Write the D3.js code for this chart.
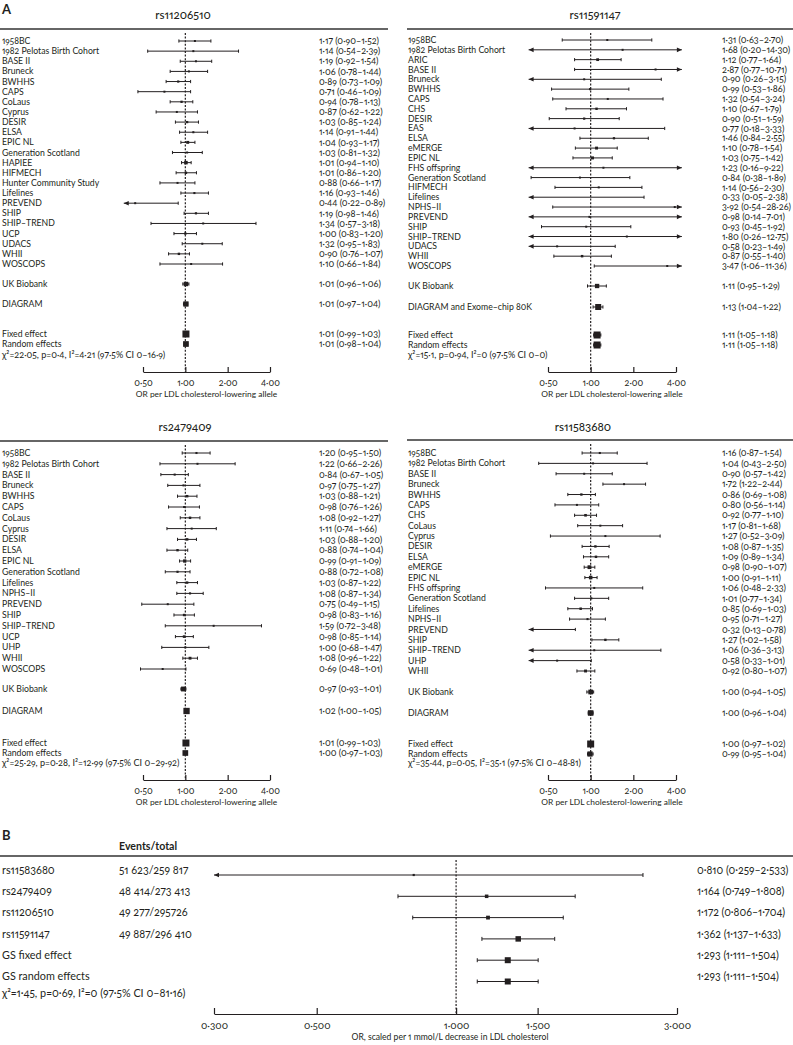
<!DOCTYPE html>
<html><head><meta charset="utf-8">
<script src="https://cdn.jsdelivr.net/npm/d3@7"></script>
<style>
body{margin:0;background:#fff}
svg text{font-family:Lato,"Open Sans",sans-serif;fill:#231f20;font-feature-settings:"onum" 1,"pnum" 1;}
</style>
</head><body>
<svg id="c" width="793" height="1045"></svg>
<script>
// ---------- DATA ----------
const p1Title = "rs11206510";
const p1Labels = ["1958BC","1982 Pelotas Birth Cohort","BASE II","Bruneck","BWHHS","CAPS","CoLaus","Cyprus","DESIR","ELSA","EPIC NL","Generation Scotland","HAPIEE","HIFMECH","Hunter Community Study","Lifelines","PREVEND","SHIP","SHIP–TREND","UCP","UDACS","WHII","WOSCOPS","UK Biobank","DIAGRAM","Fixed effect","Random effects"];
const p1OR = [1.17,1.14,1.19,1.06,0.89,0.71,0.94,0.87,1.03,1.14,1.04,1.03,1.01,1.01,0.88,1.16,0.44,1.19,1.34,1.00,1.32,0.90,1.10,1.01,1.01,1.01,1.01];
const p1Lo = [0.90,0.54,0.92,0.78,0.73,0.46,0.78,0.62,0.85,0.91,0.93,0.81,0.94,0.86,0.66,0.93,0.22,0.98,0.57,0.83,0.95,0.76,0.66,0.96,0.97,0.99,0.98];
const p1Hi = [1.52,2.39,1.54,1.44,1.09,1.09,1.13,1.22,1.24,1.44,1.17,1.32,1.10,1.20,1.17,1.46,0.89,1.46,3.18,1.20,1.83,1.07,1.84,1.06,1.04,1.03,1.04];
const p1Het = "χ²=22·05, p=0·4, I²=4·21 (97·5% CI 0–16·9)";

const p2Title = "rs11591147";
const p2Labels = ["1958BC","1982 Pelotas Birth Cohort","ARIC","BASE II","Bruneck","BWHHS","CAPS","CHS","DESIR","EAS","ELSA","eMERGE","EPIC NL","FHS offspring","Generation Scotland","HIFMECH","Lifelines","NPHS–II","PREVEND","SHIP","SHIP–TREND","UDACS","WHII","WOSCOPS","UK Biobank","DIAGRAM and Exome–chip 80K","Fixed effect","Random effects"];
const p2OR = [1.31,1.68,1.12,2.87,0.90,0.99,1.32,1.10,0.90,0.77,1.46,1.10,1.03,1.23,0.84,1.14,0.33,3.92,0.98,0.93,1.80,0.58,0.87,3.47,1.11,1.13,1.11,1.11];
const p2Lo = [0.63,0.20,0.77,0.77,0.26,0.53,0.54,0.67,0.51,0.18,0.84,0.78,0.75,0.16,0.38,0.56,0.05,0.54,0.14,0.45,0.26,0.23,0.55,1.06,0.95,1.04,1.05,1.05];
const p2Hi = [2.70,14.30,1.64,10.71,3.15,1.86,3.24,1.79,1.59,3.33,2.55,1.54,1.42,9.22,1.89,2.30,2.38,28.26,7.01,1.92,12.75,1.49,1.40,11.36,1.29,1.22,1.18,1.18];
const p2Het = "χ²=15·1, p=0·94, I²=0 (97·5% CI 0–0)";

const p3Title = "rs2479409";
const p3Labels = ["1958BC","1982 Pelotas Birth Cohort","BASE II","Bruneck","BWHHS","CAPS","CoLaus","Cyprus","DESIR","ELSA","EPIC NL","Generation Scotland","Lifelines","NPHS–II","PREVEND","SHIP","SHIP–TREND","UCP","UHP","WHII","WOSCOPS","UK Biobank","DIAGRAM","Fixed effect","Random effects"];
const p3OR = [1.20,1.22,0.84,0.97,1.03,0.98,1.08,1.11,1.03,0.88,0.99,0.88,1.03,1.08,0.75,0.98,1.59,0.98,1.00,1.08,0.69,0.97,1.02,1.01,1.00];
const p3Lo = [0.95,0.66,0.67,0.75,0.88,0.76,0.92,0.74,0.88,0.74,0.91,0.72,0.87,0.87,0.49,0.83,0.72,0.85,0.68,0.96,0.48,0.93,1.00,0.99,0.97];
const p3Hi = [1.50,2.26,1.05,1.27,1.21,1.26,1.27,1.66,1.20,1.04,1.09,1.08,1.22,1.34,1.15,1.16,3.48,1.14,1.47,1.22,1.01,1.01,1.05,1.03,1.03];
const p3Het = "χ²=25·29, p=0·28, I²=12·99 (97·5% CI 0–29·92)";

const p4Title = "rs11583680";
const p4Labels = ["1958BC","1982 Pelotas Birth Cohort","BASE II","Bruneck","BWHHS","CAPS","CHS","CoLaus","Cyprus","DESIR","ELSA","eMERGE","EPIC NL","FHS offspring","Generation Scotland","Lifelines","NPHS–II","PREVEND","SHIP","SHIP–TREND","UHP","WHII","UK Biobank","DIAGRAM","Fixed effect","Random effects"];
const p4OR = [1.16,1.04,0.90,1.72,0.86,0.80,0.92,1.17,1.27,1.08,1.09,0.98,1.00,1.06,1.01,0.85,0.95,0.32,1.27,1.06,0.58,0.92,1.00,1.00,1.00,0.99];
const p4Lo = [0.87,0.43,0.57,1.22,0.69,0.56,0.77,0.81,0.52,0.87,0.89,0.90,0.91,0.48,0.77,0.69,0.71,0.13,1.02,0.36,0.33,0.80,0.94,0.96,0.97,0.95];
const p4Hi = [1.54,2.50,1.42,2.44,1.08,1.14,1.10,1.68,3.09,1.35,1.34,1.07,1.11,2.33,1.34,1.03,1.27,0.78,1.58,3.13,1.01,1.07,1.05,1.04,1.02,1.04];
const p4Het = "χ²=35·44, p=0·05, I²=35·1 (97·5% CI 0–48·81)";

const aTicks = [0.5,1,2,4];
const aTickLabels = ["0·50","1·00","2·00","4·00"];
const aAxisTitle = "OR per LDL cholesterol-lowering allele";

const bLabels = ["rs11583680","rs2479409","rs11206510","rs11591147","GS fixed effect","GS random effects"];
const bEvents = ["51 623/259 817","48 414/273 413","49 277/295726","49 887/296 410","",""];
const bOR = [0.810,1.164,1.172,1.362,1.293,1.293];
const bLo = [0.259,0.749,0.806,1.137,1.111,1.111];
const bHi = [2.533,1.808,1.704,1.633,1.504,1.504];
const bHet = "χ²=1·45, p=0·69, I²=0 (97·5% CI 0–81·16)";
const bTicks = [0.3,0.5,1,1.5,3];
const bTickLabels = ["0·300","0·500","1·000","1·500","3·000"];
const bAxisTitle = "OR, scaled per 1 mmol/L decrease in LDL cholesterol";

// ---------- DRAW ----------
const svg = d3.select("#c");
const ink = "#231f20";
const fmt = (v,d) => v.toFixed(d).replace(".", "·");

function ciRow(g, x, y, or, lo, hi, side, clipLo, clipHi, capH, lw) {
  const xl = x(Math.max(lo, clipLo)), xr = x(Math.min(hi, clipHi));
  g.append("line").attr("x1", xl).attr("x2", xr).attr("y1", y).attr("y2", y)
    .attr("stroke", ink).attr("stroke-width", lw);
  if (lo < clipLo) {
    g.append("path").attr("d", `M${xl},${y}l5,-2.3v4.6z`).attr("fill", ink);
  } else {
    g.append("line").attr("x1", xl).attr("x2", xl).attr("y1", y-capH).attr("y2", y+capH).attr("stroke", ink).attr("stroke-width", lw);
  }
  if (hi > clipHi) {
    g.append("path").attr("d", `M${xr},${y}l-5,-2.3v4.6z`).attr("fill", ink);
  } else {
    g.append("line").attr("x1", xr).attr("x2", xr).attr("y1", y-capH).attr("y2", y+capH).attr("stroke", ink).attr("stroke-width", lw);
  }
  if (or >= clipLo && or <= clipHi) {
    g.append("rect").attr("x", x(or)-side/2).attr("y", y-side/2).attr("width", side).attr("height", side).attr("fill", ink);
  }
}

function drawPanel(cfg, title, labels, ors, los, his, het) {
  const g = svg.append("g");
  const x = d3.scaleLog().domain([0.5,4]).range([cfg.ax0, cfg.ax1]);
  const n = labels.length, ns = n - 4;
  const ys = labels.map((d,i) => i < ns ? cfg.first + i*(cfg.last-cfg.first)/(ns-1) : cfg.spec[i-ns]);
  const inv = labels.map((d,i) => 1/Math.log(his[i]/los[i]));
  const maxInv = d3.max(inv);
  g.append("text").attr("x", cfg.tx).attr("y", cfg.ty).attr("text-anchor","middle")
    .attr("font-size", 11.5).attr("font-weight", 500).text(title);
  g.append("line").attr("x1", cfg.r0).attr("x2", cfg.r1).attr("y1", cfg.rule).attr("y2", cfg.rule)
    .attr("stroke", "#333").attr("stroke-width", 1.3);
  g.append("line").attr("x1", x(1)).attr("x2", x(1)).attr("y1", cfg.rule+4).attr("y2", cfg.axis)
    .attr("stroke", ink).attr("stroke-width", 1.2).attr("stroke-dasharray", "2,1.6");
  labels.forEach((lab,i) => {
    const y = ys[i];
    g.append("text").attr("x", cfg.lx).attr("y", y).attr("dy","0.35em").attr("font-size", 8.7).text(lab);
    g.append("text").attr("x", cfg.vx).attr("y", y).attr("dy","0.35em").attr("font-size", 9.1)
      .text(`${fmt(ors[i],2)} (${fmt(los[i],2)}–${fmt(his[i],2)})`);
    const side = Math.max(2, 7*Math.sqrt(inv[i]/maxInv));
    ciRow(g, x, y, ors[i], los[i], his[i], side, 0.365, 4.4, 1.6, 1);
  });
  g.append("text").attr("x", cfg.lx).attr("y", cfg.chi).attr("dy","0.35em").attr("font-size", 9.1).text(het);
  const ax = g.append("g").attr("transform", `translate(0,${cfg.axis})`)
    .call(d3.axisBottom(x).tickValues(aTicks).tickFormat((d,i)=>aTickLabels[i]).tickSize(-5).tickSizeOuter(0).tickPadding(8));
  ax.selectAll("path,line").attr("stroke", ink).attr("stroke-width", 1.2);
  ax.selectAll("text").attr("font-size", 9).attr("fill", ink).attr("font-family", null);
  g.append("text").attr("x", (cfg.ax0+cfg.ax1)/2).attr("y", cfg.axis+25).attr("text-anchor","middle")
    .attr("font-size", 8.4).text(aAxisTitle);
}

svg.append("text").attr("x", 2).attr("y", 14).attr("font-size", 13).attr("font-weight", 700).text("A");

drawPanel({tx:183, ty:19, rule:29, r0:0, r1:388, lx:2, vx:319, ax0:143, ax1:270,
  first:41, last:264, spec:[284,304,334,344], chi:355, axis:372}, p1Title, p1Labels, p1OR, p1Lo, p1Hi, p1Het);
drawPanel({tx:595, ty:19, rule:29, r0:407, r1:793, lx:408, vx:722, ax0:548, ax1:676,
  first:40, last:266, spec:[286,307,335,345], chi:355, axis:372}, p2Title, p2Labels, p2OR, p2Lo, p2Hi, p2Het);
drawPanel({tx:185, ty:431, rule:441, r0:0, r1:388, lx:2, vx:319, ax0:143, ax1:270,
  first:453, last:669, spec:[689,711,743,753], chi:763, axis:780}, p3Title, p3Labels, p3OR, p3Lo, p3Hi, p3Het);
drawPanel({tx:583, ty:431, rule:440, r0:407, r1:793, lx:408, vx:722, ax0:548, ax1:676,
  first:453, last:671, spec:[692,713,744,754], chi:763, axis:780}, p4Title, p4Labels, p4OR, p4Lo, p4Hi, p4Het);

// ---------- Panel B ----------
(function(){
  const g = svg.append("g");
  const x = d3.scaleLog().domain([0.3,3]).range([214,677]);
  const rule = 856, axisY = 1014;
  g.append("text").attr("x", 2).attr("y", 840).attr("font-size", 13).attr("font-weight", 700).text("B");
  g.append("text").attr("x", 119).attr("y", 846).attr("dy","0.35em").attr("font-size", 10.6).attr("font-weight", 700).text("Events/total");
  g.append("line").attr("x1", 0).attr("x2", 793).attr("y1", rule).attr("y2", rule).attr("stroke", "#333").attr("stroke-width", 1.3);
  g.append("line").attr("x1", x(1)).attr("x2", x(1)).attr("y1", rule+4).attr("y2", axisY)
    .attr("stroke", ink).attr("stroke-width", 1.2).attr("stroke-dasharray", "2,1.6");
  const inv = bLabels.map((d,i) => 1/Math.log(bHi[i]/bLo[i]));
  const maxInv = d3.max(inv);
  bLabels.forEach((lab,i) => {
    const ty = 870 + i*21.3, my = ty + 5;
    g.append("text").attr("x", 2).attr("y", ty).attr("dy","0.35em").attr("font-size", 10.8).text(lab);
    g.append("text").attr("x", 119).attr("y", ty).attr("dy","0.35em").attr("font-size", 10.8).text(bEvents[i]);
    g.append("text").attr("x", 697).attr("y", ty).attr("dy","0.35em").attr("font-size", 10.6)
      .text(`${fmt(bOR[i],3)} (${fmt(bLo[i],3)}–${fmt(bHi[i],3)})`);
    const side = Math.max(2, 6*Math.sqrt(inv[i]/maxInv));
    ciRow(g, x, my, bOR[i], bLo[i], bHi[i], side, 0.3, 3, 2, 1);
  });
  g.append("text").attr("x", 2).attr("y", 993).attr("dy","0.35em").attr("font-size", 10.8).text(bHet);
  const ax = g.append("g").attr("transform", `translate(0,${axisY})`)
    .call(d3.axisBottom(x).tickValues(bTicks).tickFormat((d,i)=>bTickLabels[i]).tickSize(-6).tickSizeOuter(0).tickPadding(8));
  ax.selectAll("path,line").attr("stroke", ink).attr("stroke-width", 1.2);
  ax.selectAll("text").attr("font-size", 10).attr("fill", ink).attr("font-family", null);
  g.append("text").attr("x", 450).attr("y", 1037).attr("dy","0.35em").attr("text-anchor","middle").attr("font-size", 8.6).text(bAxisTitle);
})();
</script>
</body></html>
